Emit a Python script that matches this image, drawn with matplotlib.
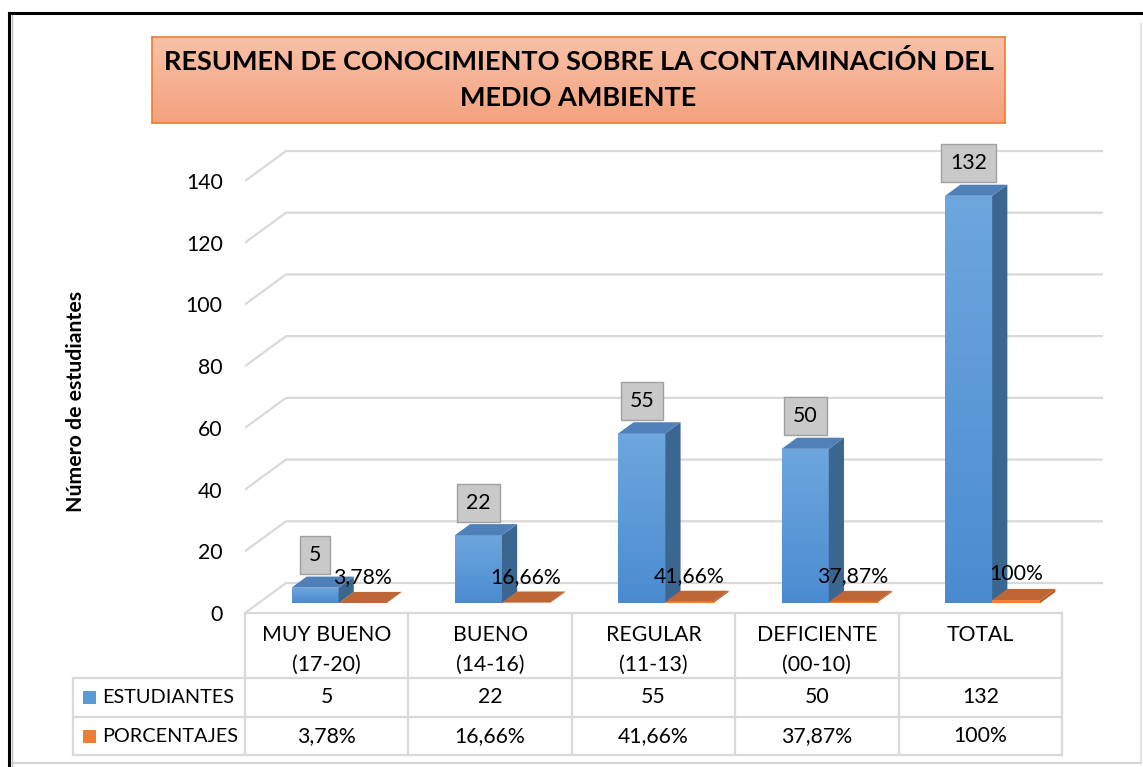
import numpy as np
import matplotlib
matplotlib.use("Agg")
import matplotlib.pyplot as plt
from matplotlib.patches import Polygon, Rectangle
from matplotlib.lines import Line2D
from matplotlib.colors import LinearSegmentedColormap

# ---------------- data ----------------
categories = ["MUY BUENO\n(17-20)", "BUENO\n(14-16)", "REGULAR\n(11-13)", "DEFICIENTE\n(00-10)", "TOTAL"]
estudiantes = [5, 22, 55, 50, 132]
porcentajes = [0.0378, 0.1666, 0.4166, 0.3787, 1.0]
pct_labels = ["3,78%", "16,66%", "41,66%", "37,87%", "100%"]
series_names = ["ESTUDIANTES", "PORCENTAJES"]
yticks = [0, 20, 40, 60, 80, 100, 120, 140]
title = "RESUMEN DE CONOCIMIENTO SOBRE LA CONTAMINACIÓN DEL\nMEDIO AMBIENTE"
ylabel = "Número de estudiantes"

FONT = "Lato"
plt.rcParams['font.family'] = [FONT, 'DejaVu Sans']
FS = 15.3

W, H = 1143, 767
fig = plt.figure(figsize=(W / 100, H / 100), dpi=100)
fig.patch.set_facecolor("white")


def fx(x):
    return x / W


def fy(y):
    return 1 - y / H


# ---------------- main 3D-ish axes ----------------
PX_CAT = 163.4
PX_UNIT = 432 / 140
ax_l, ax_r, ax_b, ax_t = 245, 1112, 613, 140
ax = fig.add_axes([fx(ax_l), fy(ax_b), (ax_r - ax_l) / W, (ax_b - ax_t) / H])
XMAX = (ax_r - ax_l) / PX_CAT
YMAX = (ax_b - ax_t) / PX_UNIT
ax.set_xlim(0, XMAX)
ax.set_ylim(0, YMAX)
ax.set_facecolor("none")
for s in ax.spines.values():
    s.set_visible(False)
ax.set_xticks([])
ax.set_yticks(yticks)
ax.set_yticklabels([str(t) for t in yticks], fontsize=FS, color="#000000")
ax.tick_params(axis="y", length=0, pad=16)

DX = 41 / PX_CAT
DY = 30 / PX_UNIT
ncat = len(categories)
grid_c = "#D9D9D9"
for v in yticks:
    ax.plot([0, DX, ncat + DX], [v, v + DY, v + DY], color=grid_c, lw=1.6,
            solid_capstyle="butt", zorder=1)

d0, d1 = 0.33, 0.70
blue_off, orange_off = (-0.298, -0.010), (-0.010, 0.284)

blue_cmap = LinearSegmentedColormap.from_list("b", ["#4A8BD0", "#6EA7DE"])
orange_cmap = LinearSegmentedColormap.from_list("o", ["#ED7D31", "#F08A45"])


def draw_bar(xl, xr, v, cmap, side_c, top_c, z):
    x0, x1 = xl + d0 * DX, xr + d0 * DX
    y0 = d0 * DY
    bars = ax.bar([x0], [v], width=x1 - x0, bottom=y0, align="edge",
                  color="none", edgecolor="none", zorder=z)
    im = ax.imshow(np.linspace(0, 1, 256).reshape(-1, 1), cmap=cmap,
                   extent=[x0, x1, y0, y0 + max(v, 1e-3)], origin="lower",
                   aspect="auto", zorder=z)
    im.set_clip_path(bars[0])
    side = [(xr + d0 * DX, d0 * DY), (xr + d1 * DX, d1 * DY),
            (xr + d1 * DX, v + d1 * DY), (xr + d0 * DX, v + d0 * DY)]
    ax.add_patch(Polygon(side, closed=True, fc=side_c, ec="none", zorder=z))
    top = [(xl + d0 * DX, v + d0 * DY), (xr + d0 * DX, v + d0 * DY),
           (xr + d1 * DX, v + d1 * DY), (xl + d1 * DX, v + d1 * DY)]
    ax.add_patch(Polygon(top, closed=True, fc=top_c, ec="none", zorder=z))


for i in range(ncat):
    c = i + 0.5
    draw_bar(c + blue_off[0], c + blue_off[1], estudiantes[i], blue_cmap,
             "#3A6690", "#4F80B8", 3 + i * 2)
    draw_bar(c + orange_off[0], c + orange_off[1], porcentajes[i], orange_cmap,
             "#B35E2C", "#BF6637", 4 + i * 2)
    # blue label in grey box
    bx = c + (blue_off[0] + blue_off[1]) / 2 + d0 * DX
    ax.annotate(str(estudiantes[i]), xy=(bx, estudiantes[i] + d0 * DY),
                xytext=(0, 23.5), textcoords="offset points", ha="center", va="center",
                fontsize=FS, color="#000000", zorder=30,
                bbox=dict(boxstyle="square,pad=0.42", fc="#C9C9C9", ec="#A0A0A0", lw=1.0))
    ox = c + (orange_off[0] + orange_off[1]) / 2 + d0 * DX
    ax.annotate(pct_labels[i], xy=(ox, porcentajes[i] + d0 * DY),
                xytext=(0, 18.5), textcoords="offset points", ha="center", va="center",
                fontsize=FS, color="#000000", zorder=31)
ax.set_xlim(0, XMAX)
ax.set_ylim(0, YMAX)

# y axis label
fig.text(fx(76), fy(401), ylabel, rotation=90, ha="center", va="center",
         fontsize=15.3, fontweight="bold", color="#000000")

# ---------------- data table ----------------
tab_c = "#D9D9D9"
col_x = [245 + PX_CAT * k for k in range(ncat + 1)]
row_y = [613, 678, 717, 755]
left_x = 73


def hline(x0, x1, y):
    fig.add_artist(Line2D([fx(x0), fx(x1)], [fy(y), fy(y)], color=tab_c, lw=1.6))


def vline(x, y0, y1):
    fig.add_artist(Line2D([fx(x), fx(x)], [fy(y0), fy(y1)], color=tab_c, lw=1.6))


hline(col_x[0], col_x[-1], row_y[0])
for y in row_y[1:]:
    hline(left_x, col_x[-1], y)
for x in col_x:
    vline(x, row_y[0], row_y[-1])
vline(left_x, row_y[1], row_y[-1])

for i, cat in enumerate(categories):
    cx = (col_x[i] + col_x[i + 1]) / 2
    for j, line in enumerate(cat.split("\n")):
        fig.text(fx(cx), fy(635 + 30 * j), line, ha="center", va="center",
                 fontsize=FS, color="#000000")
    fig.text(fx(cx), fy(697), str(estudiantes[i]), ha="center", va="center",
             fontsize=FS, color="#000000")
    fig.text(fx(cx), fy(736), pct_labels[i], ha="center", va="center",
             fontsize=FS, color="#000000")

key_colors = ["#5B9BD5", "#ED7D31"]
for k, (name, kc) in enumerate(zip(series_names, key_colors)):
    yc = (row_y[k + 1] + row_y[k + 2]) / 2
    fig.add_artist(Rectangle((fx(83), fy(yc + 6.5)), 13 / W, 13 / H, fc=kc, ec="none",
                             transform=fig.transFigure))
    fig.text(fx(102), fy(yc), name, ha="left", va="center", fontsize=14.3, color="#000000")

# ---------------- title box ----------------
tax = fig.add_axes([fx(152), fy(123), (1005 - 152) / W, (123 - 37) / H])
tcm = LinearSegmentedColormap.from_list("t", ["#F4A27E", "#F8C1A8"])
tax.imshow(np.linspace(0, 1, 256).reshape(-1, 1), cmap=tcm, origin="lower",
           aspect="auto", extent=[0, 1, 0, 1])
tax.set_xlim(0, 1)
tax.set_ylim(0, 1)
tax.set_xticks([])
tax.set_yticks([])
for s in tax.spines.values():
    s.set_color("#ED7D31")
    s.set_linewidth(1.2)
tax.text(0.5, 0.5, title, ha="center", va="center", fontsize=19.5, fontweight="bold",
         color="#000000", linespacing=1.6, transform=tax.transAxes)

# ---------------- outer frame ----------------
fig.add_artist(Line2D([fx(9), fx(1143)], [fy(13), fy(13)], color="#000000", lw=2.2))
fig.add_artist(Line2D([fx(9), fx(9)], [fy(13), fy(767)], color="#000000", lw=2.2))
fig.add_artist(Line2D([fx(11.5), fx(11.5)], [fy(15), fy(767)], color="#BBBBBB", lw=1.0))
fig.add_artist(Line2D([fx(1141), fx(1141)], [fy(24), fy(763)], color="#E3E3E3", lw=1.5))
fig.add_artist(Line2D([fx(12), fx(1141)], [fy(763), fy(763)], color="#D5D5D5", lw=1.5))

fig.savefig("out.png", dpi=100)
